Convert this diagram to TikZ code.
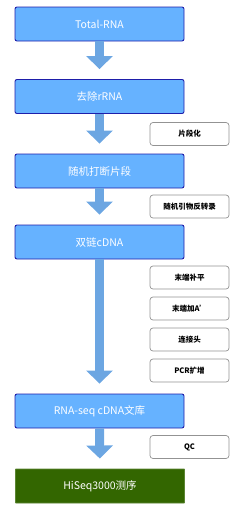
\documentclass[tikz,border=0pt]{standalone}
\usepackage{fontspec}
\setmainfont{Noto Sans CJK SC}
\usetikzlibrary{arrows.meta}
\definecolor{stepblue}{RGB}{102,178,255}
\definecolor{stepedge}{RGB}{30,30,170}
\definecolor{seqgreen}{RGB}{51,102,0}
\definecolor{flowblue}{RGB}{108,166,226}
\tikzset{
  mainbox/.style={draw=stepedge, fill=stepblue, line width=0.9pt, rounded corners=2pt,
    minimum width=169pt, minimum height=34pt, inner sep=0pt, text=white,
    font=\fontsize{10.5}{12}\selectfont},
  seqbox/.style={mainbox, draw=seqgreen!80, fill=seqgreen, rounded corners=0.5pt},
  sidebox/.style={draw=gray!85, fill=white, line width=0.7pt, rounded corners=3pt,
    minimum width=79pt, minimum height=23pt, inner sep=0pt,
    font=\fontsize{7.5}{9}\selectfont\bfseries},
  flow/.style={draw=flowblue, line width=9pt, -{Triangle[width=26pt,length=13pt]}, shorten >=10pt}
}
\begin{document}
\begin{tikzpicture}[x=1pt, y=-1pt]
  \useasboundingbox (0,0) rectangle (245,507);
  % steps
  \node[mainbox] (total) at (99.5,24) {Total-RNA};
  \node[mainbox] (rrna) at (99.5,96.5) {去除rRNA};
  \node[mainbox] (frag) at (99.5,171) {随机打断片段};
  \node[mainbox] (cdna) at (99.5,242) {双链cDNA};
  \node[mainbox] (lib) at (99.5,411) {RNA-seq cDNA文库};
  \node[seqbox] (seq) at (100,486) {HiSeq3000测序};
  % arrows between steps
  \draw[flow] (total.south) -- (rrna.north);
  \draw[flow] (rrna.south) -- (frag.north);
  \draw[flow] (frag.south) -- (cdna.north);
  \draw[flow] (cdna.south) -- (lib.north);
  \draw[flow] (lib.south) -- (seq.north);
  % side notes
  \node[sidebox] (cut) at (189.5,134) {片段化};
  \node[sidebox] (rt) at (189.5,206.5) {随机引物反转录};
  \node[sidebox] (blunt) at (189.5,277.5) {末端补平};
  \node[sidebox] (atail) at (189.5,308.5) {末端加A'};
  \node[sidebox] (adapt) at (189.5,339.5) {连接头};
  \node[sidebox] (pcr) at (189.5,370.5) {PCR扩增};
  \node[sidebox] (qc) at (189.5,447) {QC};
\end{tikzpicture}
\end{document}
